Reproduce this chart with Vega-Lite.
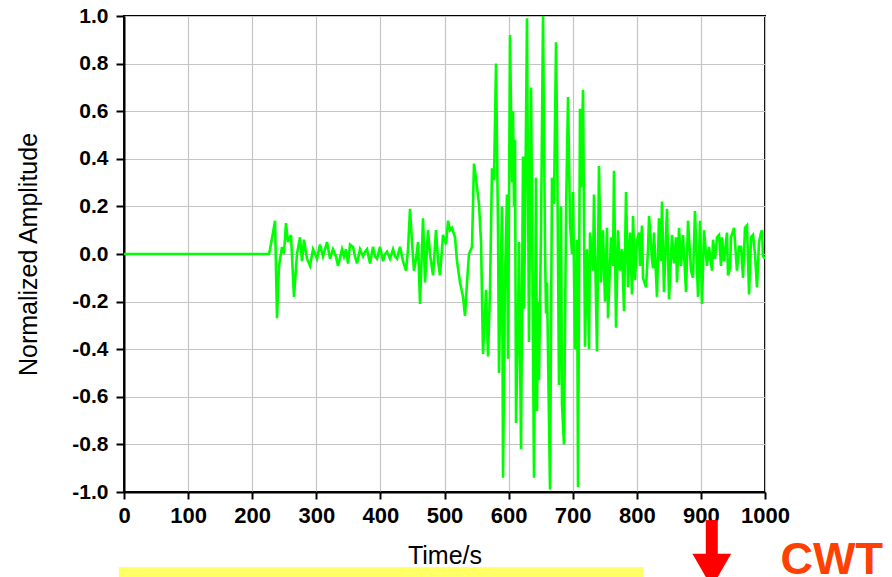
{
  "$schema": "https://vega.github.io/schema/vega-lite/v6.json",
  "width": 641,
  "height": 476,
  "autosize": "none",
  "padding": {"left": 124, "top": 16, "right": 127, "bottom": 85},
  "background": "white",
  "config": {
    "view": {"stroke": "black", "strokeWidth": 2},
    "font": "Liberation Sans",
    "axis": {
      "domainColor": "black", "domainWidth": 2,
      "tickColor": "black", "tickWidth": 2,
      "gridColor": "#c4c4c4", "gridWidth": 1.2,
      "labelColor": "black", "titleColor": "black",
      "labelFont": "Liberation Sans", "titleFont": "Liberation Sans"
    }
  },
  "datasets": {
    "sig": [
      {"t": 0, "v": 0}, {"t": 226.2, "v": 0}, {"t": 227.8, "v": 0.02}, {"t": 232.5, "v": 0.09}, {"t": 235.6, "v": 0.14},
      {"t": 238.7, "v": -0.27}, {"t": 241.8, "v": -0.05}, {"t": 246.5, "v": 0.03}, {"t": 249.6, "v": 0.0}, {"t": 252.7, "v": 0.13},
      {"t": 255.8, "v": 0.05}, {"t": 260.5, "v": 0.08}, {"t": 265.2, "v": -0.18}, {"t": 269.9, "v": 0.0}, {"t": 274.6, "v": 0.07},
      {"t": 277.7, "v": -0.03}, {"t": 280.8, "v": 0.06}, {"t": 285.5, "v": -0.02}, {"t": 290.2, "v": -0.05}, {"t": 294.9, "v": 0.02},
      {"t": 301.1, "v": -0.02}, {"t": 305.8, "v": 0.04}, {"t": 310.5, "v": -0.01}, {"t": 316.7, "v": 0.05}, {"t": 321.4, "v": -0.02},
      {"t": 326.1, "v": 0.02}, {"t": 330.7, "v": -0.01}, {"t": 333.9, "v": -0.05}, {"t": 340.1, "v": 0.02}, {"t": 343.2, "v": -0.01},
      {"t": 346.3, "v": 0.02}, {"t": 349.5, "v": -0.04}, {"t": 352.6, "v": 0.04}, {"t": 357.3, "v": 0.03}, {"t": 360.4, "v": -0.01},
      {"t": 363.5, "v": -0.04}, {"t": 368.2, "v": 0.02}, {"t": 372.9, "v": -0.01}, {"t": 376.0, "v": 0.01}, {"t": 379.1, "v": 0.02},
      {"t": 383.8, "v": -0.04}, {"t": 388.5, "v": 0.03}, {"t": 391.6, "v": -0.01}, {"t": 394.7, "v": -0.02}, {"t": 399.4, "v": 0.03},
      {"t": 404.1, "v": -0.03}, {"t": 407.2, "v": 0.0}, {"t": 410.3, "v": 0.01}, {"t": 415.0, "v": -0.02}, {"t": 419.7, "v": 0.02},
      {"t": 422.8, "v": -0.01}, {"t": 425.9, "v": -0.02}, {"t": 430.6, "v": 0.03}, {"t": 435.3, "v": -0.03}, {"t": 440.0, "v": -0.07},
      {"t": 443.1, "v": 0.02}, {"t": 446.2, "v": 0.19}, {"t": 449.3, "v": 0.05}, {"t": 452.4, "v": -0.07}, {"t": 455.6, "v": -0.02},
      {"t": 458.7, "v": 0.05}, {"t": 461.8, "v": -0.21}, {"t": 466.5, "v": 0.15}, {"t": 469.6, "v": -0.12}, {"t": 474.3, "v": 0.1},
      {"t": 477.4, "v": 0.0}, {"t": 482.1, "v": -0.09}, {"t": 486.8, "v": 0.10}, {"t": 489.9, "v": -0.03}, {"t": 493.0, "v": -0.09},
      {"t": 497.7, "v": 0.08}, {"t": 502.4, "v": 0.04}, {"t": 505.5, "v": 0.14}, {"t": 508.6, "v": 0.10}, {"t": 511.7, "v": 0.11},
      {"t": 516.4, "v": 0.07}, {"t": 519.5, "v": -0.03}, {"t": 524.2, "v": -0.12}, {"t": 528.9, "v": -0.18}, {"t": 532.0, "v": -0.26},
      {"t": 535.1, "v": -0.12}, {"t": 538.2, "v": 0.0}, {"t": 542.9, "v": 0.03}, {"t": 546.0, "v": 0.38}, {"t": 547.6, "v": 0.35},
      {"t": 550.7, "v": 0.28}, {"t": 553.8, "v": 0.21}, {"t": 557.0, "v": 0.05}, {"t": 560.1, "v": -0.42}, {"t": 564.8, "v": -0.15},
      {"t": 567.9, "v": -0.43}, {"t": 571.0, "v": -0.15}, {"t": 574.1, "v": 0.36}, {"t": 577.2, "v": 0.31}, {"t": 580.4, "v": 0.80},
      {"t": 583.5, "v": 0.1}, {"t": 585.0, "v": -0.50}, {"t": 588.2, "v": 0.0}, {"t": 589.7, "v": 0.20}, {"t": 591.3, "v": -0.94},
      {"t": 594.4, "v": -0.1}, {"t": 597.5, "v": 0.25}, {"t": 599.1, "v": -0.44}, {"t": 602.2, "v": 0.92}, {"t": 605.3, "v": 0.3},
      {"t": 606.9, "v": 0.60}, {"t": 608.4, "v": 0.2}, {"t": 610.0, "v": 0.48}, {"t": 611.6, "v": -0.71}, {"t": 614.7, "v": -0.3},
      {"t": 616.2, "v": 0.05}, {"t": 619.4, "v": -0.82}, {"t": 622.5, "v": 0.41}, {"t": 624.0, "v": -0.23}, {"t": 625.6, "v": 0.1},
      {"t": 628.7, "v": 0.99}, {"t": 631.8, "v": -0.37}, {"t": 635.0, "v": 0.70}, {"t": 636.5, "v": 0.2}, {"t": 639.6, "v": -0.94},
      {"t": 642.8, "v": 0.32}, {"t": 644.3, "v": -0.66}, {"t": 645.9, "v": -0.2}, {"t": 647.4, "v": -0.53}, {"t": 650.6, "v": 0.1},
      {"t": 653.7, "v": 1.0}, {"t": 656.8, "v": 0.02}, {"t": 658.4, "v": -0.25}, {"t": 659.9, "v": -0.12}, {"t": 664.6, "v": -0.99},
      {"t": 667.7, "v": 0.32}, {"t": 670.8, "v": 0.21}, {"t": 674.0, "v": 0.89}, {"t": 675.5, "v": 0.53}, {"t": 678.6, "v": -0.55},
      {"t": 681.8, "v": 0.20}, {"t": 683.3, "v": -0.63}, {"t": 686.4, "v": -0.80}, {"t": 689.6, "v": 0.17}, {"t": 692.7, "v": 0.66},
      {"t": 695.8, "v": 0.13}, {"t": 698.9, "v": 0.0}, {"t": 700.5, "v": 0.26}, {"t": 703.6, "v": -0.40}, {"t": 706.7, "v": 0.06},
      {"t": 708.3, "v": -0.98}, {"t": 711.4, "v": 0.61}, {"t": 713.0, "v": 0.28}, {"t": 716.1, "v": 0.69}, {"t": 719.2, "v": -0.39},
      {"t": 722.3, "v": 0.02}, {"t": 725.5, "v": -0.40}, {"t": 727.0, "v": 0.09}, {"t": 731.7, "v": -0.07}, {"t": 733.2, "v": 0.25},
      {"t": 737.9, "v": -0.41}, {"t": 741.0, "v": 0.37}, {"t": 744.2, "v": -0.12}, {"t": 747.3, "v": 0.10}, {"t": 750.4, "v": -0.20},
      {"t": 753.5, "v": 0.11}, {"t": 755.1, "v": -0.27}, {"t": 759.8, "v": 0.07}, {"t": 762.9, "v": -0.05}, {"t": 764.4, "v": 0.35},
      {"t": 767.6, "v": -0.31}, {"t": 770.7, "v": 0.10}, {"t": 773.8, "v": -0.07}, {"t": 776.9, "v": 0.02}, {"t": 780.1, "v": -0.24},
      {"t": 783.2, "v": 0.26}, {"t": 786.3, "v": -0.14}, {"t": 789.4, "v": 0.09}, {"t": 792.5, "v": -0.17}, {"t": 794.1, "v": 0.16},
      {"t": 797.2, "v": -0.11}, {"t": 800.4, "v": 0.06}, {"t": 803.5, "v": 0.09}, {"t": 805.0, "v": -0.05}, {"t": 808.1, "v": 0.12},
      {"t": 809.7, "v": -0.10}, {"t": 814.4, "v": -0.14}, {"t": 817.5, "v": 0.02}, {"t": 819.1, "v": 0.16}, {"t": 823.7, "v": -0.02},
      {"t": 825.3, "v": -0.06}, {"t": 826.9, "v": 0.09}, {"t": 831.5, "v": -0.18}, {"t": 834.6, "v": 0.15}, {"t": 837.8, "v": -0.03},
      {"t": 839.3, "v": 0.22}, {"t": 842.4, "v": -0.16}, {"t": 847.1, "v": 0.19}, {"t": 850.3, "v": -0.19}, {"t": 854.9, "v": 0.08},
      {"t": 858.1, "v": -0.04}, {"t": 861.2, "v": 0.07}, {"t": 862.7, "v": -0.12}, {"t": 865.9, "v": 0.11}, {"t": 869.0, "v": -0.05},
      {"t": 872.1, "v": 0.08}, {"t": 876.8, "v": -0.16}, {"t": 879.9, "v": 0.14}, {"t": 884.6, "v": -0.07}, {"t": 887.7, "v": -0.1},
      {"t": 890.8, "v": 0.18}, {"t": 895.5, "v": -0.18}, {"t": 898.6, "v": 0.14}, {"t": 901.7, "v": -0.21}, {"t": 904.9, "v": 0.10},
      {"t": 909.5, "v": -0.05}, {"t": 912.7, "v": 0.03}, {"t": 917.3, "v": -0.07}, {"t": 918.9, "v": 0.06}, {"t": 922.0, "v": -0.02},
      {"t": 925.1, "v": 0.07}, {"t": 928.3, "v": 0.08}, {"t": 931.4, "v": -0.05}, {"t": 932.9, "v": 0.07}, {"t": 936.1, "v": -0.03},
      {"t": 940.7, "v": 0.09}, {"t": 942.3, "v": -0.09}, {"t": 945.4, "v": -0.06}, {"t": 947.0, "v": 0.07}, {"t": 951.7, "v": 0.11},
      {"t": 956.3, "v": -0.07}, {"t": 959.5, "v": 0.03}, {"t": 962.6, "v": 0.03}, {"t": 965.7, "v": -0.10}, {"t": 968.8, "v": 0.11},
      {"t": 971.9, "v": 0.12}, {"t": 975.1, "v": -0.17}, {"t": 978.2, "v": 0.07}, {"t": 981.3, "v": 0.08}, {"t": 984.4, "v": 0.0},
      {"t": 987.5, "v": -0.14}, {"t": 990.7, "v": 0.05}, {"t": 993.8, "v": 0.09}, {"t": 995.4, "v": 0.10}, {"t": 996.9, "v": -0.01},
      {"t": 1000, "v": -0.02}
    ],
    "bar": [{"t1": -8, "t2": 810, "v1": -1.315, "v2": -1.4}],
    "shaft": [{"t": 917, "v1": -1.118, "v2": -1.29}],
    "head": [{"t": 917, "v": -1.33}],
    "label": [{"t": 1104, "v": -1.345, "txt": "CWT"}]
  },
  "layer": [
    {
      "data": {"name": "sig"},
      "mark": {"type": "line", "color": "#00ff00", "strokeWidth": 2.6, "clip": true},
      "encoding": {
        "x": {
          "field": "t", "type": "quantitative",
          "scale": {"domain": [0, 1000], "nice": false, "zero": false},
          "axis": {
            "title": "Time/s", "titleFontSize": 25, "titleFontWeight": "normal", "titlePadding": 17,
            "values": [0, 50, 100, 150, 200, 250, 300, 350, 400, 450, 500, 550, 600, 650, 700, 750, 800, 850, 900, 950, 1000],
            "labelExpr": "datum.value % 100 == 0 ? datum.label : ''",
            "labelFontSize": 22, "labelFontWeight": "bold", "labelPadding": 6, "tickSize": 7,
            "format": "d", "labelFlush": false, "labelOverlap": false
          }
        },
        "y": {
          "field": "v", "type": "quantitative",
          "scale": {"domain": [-1, 1], "nice": false, "zero": false},
          "axis": {
            "title": "Normalized Amplitude", "titleFontSize": 25, "titleFontWeight": "normal", "titlePadding": 30,
            "values": [-1, -0.9, -0.8, -0.7, -0.6, -0.5, -0.4, -0.3, -0.2, -0.1, 0, 0.1, 0.2, 0.3, 0.4, 0.5, 0.6, 0.7, 0.8, 0.9, 1],
            "format": ".1f",
            "labelExpr": "abs(round(datum.value*10)) % 2 == 0 ? replace(datum.label, '\u2212', '-') : ''",
            "gridOpacity": {"condition": {"test": "abs(round(datum.value*10)) % 2 == 0", "value": 1}, "value": 0},
            "tickSize": {"condition": {"test": "abs(round(datum.value*10)) % 2 == 0", "value": 8}, "value": 5},
            "labelFontSize": 21, "labelFontWeight": "bold", "labelPadding": 8,
            "labelFlush": false, "labelOverlap": false
          }
        }
      }
    },
    {
      "data": {"name": "bar"},
      "mark": {"type": "rect", "color": "#ffff66", "clip": false},
      "encoding": {
        "x": {"field": "t1", "type": "quantitative"},
        "x2": {"field": "t2"},
        "y": {"field": "v1", "type": "quantitative"},
        "y2": {"field": "v2"}
      }
    },
    {
      "data": {"name": "shaft"},
      "mark": {"type": "rule", "color": "#ff0000", "strokeWidth": 12, "clip": false},
      "encoding": {
        "x": {"field": "t", "type": "quantitative"},
        "y": {"field": "v1", "type": "quantitative"},
        "y2": {"field": "v2"}
      }
    },
    {
      "data": {"name": "head"},
      "mark": {"type": "point", "shape": "triangle-down", "filled": true, "color": "#ff0000", "size": 1500, "opacity": 1, "clip": false},
      "encoding": {
        "x": {"field": "t", "type": "quantitative"},
        "y": {"field": "v", "type": "quantitative"}
      }
    },
    {
      "data": {"name": "label"},
      "mark": {"type": "text", "color": "#ff4000", "fontSize": 45, "fontWeight": "bold", "font": "Liberation Sans", "align": "center", "baseline": "alphabetic", "clip": false},
      "encoding": {
        "x": {"field": "t", "type": "quantitative"},
        "y": {"field": "v", "type": "quantitative"},
        "text": {"field": "txt"}
      }
    }
  ]
}
